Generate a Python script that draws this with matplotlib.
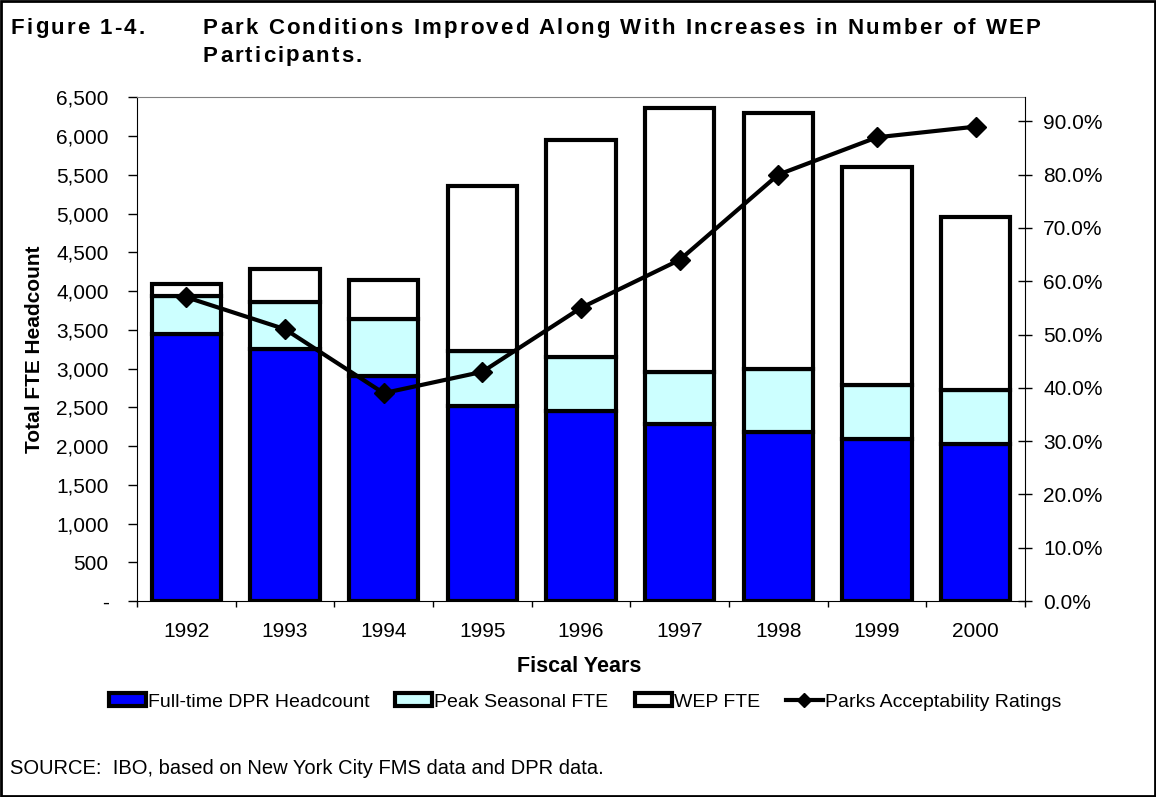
import numpy as np
import matplotlib
matplotlib.use('Agg')
import matplotlib.pyplot as plt
from matplotlib.ticker import FuncFormatter, FixedLocator
from matplotlib.patches import Patch, Rectangle
from matplotlib.lines import Line2D
from matplotlib.font_manager import findfont, FontProperties
from matplotlib.ft2font import FT2Font

plt.rcParams['font.family'] = ['Liberation Sans', 'DejaVu Sans']

# datos
years = ['1992', '1993', '1994', '1995', '1996', '1997', '1998', '1999', '2000']
fulltime = [3440, 3250, 2910, 2520, 2450, 2280, 2185, 2095, 2030]
seasonal = [490, 615, 735, 700, 700, 680, 810, 690, 690]
wep = [155, 415, 495, 2140, 2800, 3400, 3305, 2810, 2230]
ratings = [0.57, 0.51, 0.39, 0.43, 0.55, 0.64, 0.80, 0.87, 0.89]

W, H = 1156, 797
x = np.arange(len(years))
bottom2 = np.array(fulltime) + np.array(seasonal)

fig = plt.figure(figsize=(W / 100, H / 100), dpi=100)
ax = fig.add_axes([0.1185, 0.2459, 0.7682, 0.632])

w = 0.70
ax.bar(x, fulltime, width=w, color='#0000FF', edgecolor='black', linewidth=3, zorder=2)
ax.bar(x, seasonal, width=w, bottom=fulltime, color='#CCFFFF', edgecolor='black', linewidth=3, zorder=2)
ax.bar(x, wep, width=w, bottom=bottom2, color='white', edgecolor='black', linewidth=3, zorder=2)

ax.set_xlim(-0.5, len(years) - 0.5)
ax.set_ylim(0, 6500)
ax.set_yticks(np.arange(0, 6501, 500))
ax.yaxis.set_major_formatter(FuncFormatter(lambda v, p: '-' if v == 0 else f'{int(v):,}'))
ax.set_xticks(x)
ax.set_xticklabels(years)
ax.xaxis.set_minor_locator(FixedLocator(np.arange(-0.5, len(years), 1.0)))
ax.tick_params(axis='x', which='major', length=0, pad=15, labelsize=15)
ax.tick_params(axis='x', which='minor', length=4, width=1, direction='out')
ax.tick_params(axis='y', length=6.5, width=1, direction='out', pad=14, labelsize=15)

ax.spines['top'].set_color('#808080')
ax.spines['right'].set_visible(False)

# titulos de ejes
fig.text(35 / W, 1 - 349 / H, 'Total FTE Headcount', fontsize=15, fontweight='bold',
         rotation=90, ha='center', va='center')
fig.text(579 / W, 1 - 666 / H, 'Fiscal Years', fontsize=15.5, fontweight='bold',
         ha='center', va='center')

ax2 = ax.twinx()
ax2.plot(x, ratings, color='black', linewidth=3, marker='D', markersize=10, zorder=3)
ax2.set_ylim(0, 0.945)
ax2.set_yticks(np.arange(0, 0.91, 0.1))
ax2.yaxis.set_major_formatter(FuncFormatter(lambda v, p: f'{v * 100:.1f}%'))
ax2.tick_params(axis='y', length=10, width=1, direction='inout', pad=8, labelsize=15)
for s in ['top', 'left', 'bottom']:
    ax2.spines[s].set_visible(False)

handles = [
    Patch(facecolor='#0000FF', edgecolor='black', linewidth=3),
    Patch(facecolor='#CCFFFF', edgecolor='black', linewidth=3),
    Patch(facecolor='white', edgecolor='black', linewidth=3),
    Line2D([0], [0], color='black', linewidth=3, marker='D', markersize=7),
]
labels = ['Full-time DPR Headcount', 'Peak Seasonal FTE', 'WEP FTE', 'Parks Acceptability Ratings']
fig.legend(handles, labels, loc='center', bbox_to_anchor=(585 / W, 1 - 702 / H), ncol=4, frameon=False,
           fontsize=14, handlelength=1.9, handleheight=0.6, handletextpad=0.1, columnspacing=1.35,
           borderpad=0, borderaxespad=0)


# titulo con espaciado entre letras
def tracked_text(x_px, y_px, s, size, track_px, weight='bold'):
    ft = FT2Font(findfont(FontProperties(family='Liberation Sans', weight=weight)))
    ft.set_size(size, 100)
    xp = x_px
    for ch in s:
        fig.text(xp / W, 1 - y_px / H, ch, fontsize=size, fontweight=weight, va='baseline', ha='left')
        g = ft.load_char(ord(ch))
        xp += g.linearHoriAdvance / 65536 + track_px


tracked_text(11, 33.5, 'Figure 1-4.', 16, 2.1)
tracked_text(203, 33.5, 'Park Conditions Improved Along With Increases in Number of WEP', 16, 2.1)
tracked_text(203, 61.5, 'Participants.', 16, 2.1)

fig.text(10 / W, 1 - 768 / H, 'SOURCE:  IBO, based on New York City FMS data and DPR data.',
         fontsize=14.5, va='center', ha='left')

# marco
fig.patches.append(Rectangle((0.001, 0.001), 0.998, 0.998, transform=fig.transFigure,
                             fill=False, edgecolor='black', linewidth=2))

fig.savefig('out.png', dpi=100)
